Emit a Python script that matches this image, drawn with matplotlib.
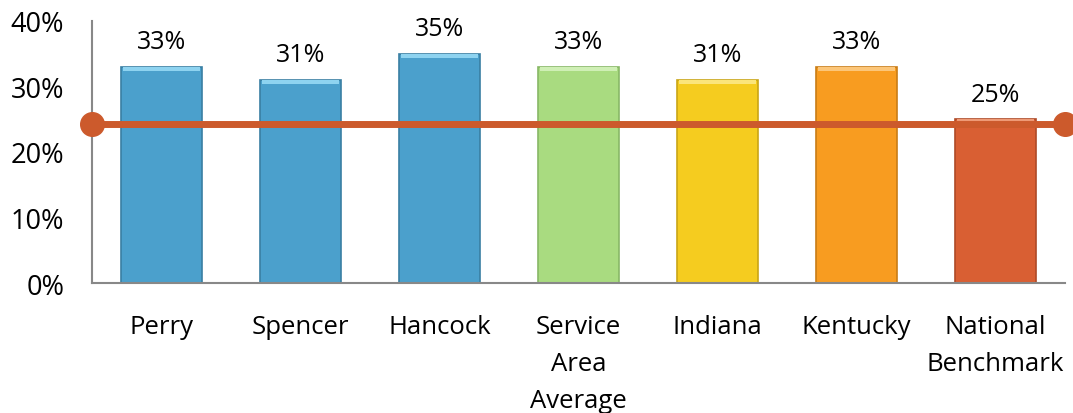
import numpy as np
import matplotlib
matplotlib.use("Agg")
import matplotlib.pyplot as plt

categories = ["Perry", "Spencer", "Hancock", "Service\nArea\nAverage",
              "Indiana", "Kentucky", "National\nBenchmark"]
values = [33, 31, 35, 33, 31, 33, 25]
benchmark = 24.2
colors = ["#4BA0CC", "#4BA0CC", "#4BA0CC", "#A9DB80",
          "#F5CC1F", "#F89C20", "#D95F33"]
edge_colors = ["#3A7FA3", "#3A7FA3", "#3A7FA3", "#88B866",
               "#C9A516", "#C97D16", "#AE4A27"]
highlights = ["#8ED3F0", "#8ED3F0", "#8ED3F0", "#CFEFB5",
              "#FBE57A", "#FCC679", "#EE9A76"]

plt.rcParams["font.family"] = ["Open Sans", "DejaVu Sans"]

fig = plt.figure(figsize=(10.73, 4.14), dpi=100)
ax = fig.add_axes([0.0857, 0.314, 0.9068, 0.633])

x = np.arange(len(categories))
w = 0.58
ax.bar(x, values, w, color=colors, edgecolor=edge_colors, linewidth=1.2, zorder=2)
# bevel highlight along the top of each bar
ax.bar(x, [0.6] * len(values), w * 0.96, bottom=np.array(values) - 0.6,
       color=highlights, linewidth=0, zorder=3)

for xi, v in zip(x, values):
    ax.annotate(f"{v}%", (xi, v), xytext=(0, 9), textcoords="offset points",
                ha="center", va="bottom", fontsize=18)

ax.plot([-0.5, len(categories) - 0.5], [benchmark, benchmark], color="#CC5A2C",
        linewidth=5, marker="o", markersize=17, clip_on=False, zorder=4)

ax.set_xlim(-0.5, len(categories) - 0.5)
ax.set_ylim(0, 40)
ax.set_yticks([0, 10, 20, 30, 40])
ax.set_yticklabels(["0%", "10%", "20%", "30%", "40%"])
ax.set_xticks(x)
ax.set_xticklabels(categories, linespacing=1.65)
ax.tick_params(axis="both", length=0, labelsize=18.5)
ax.tick_params(axis="y", pad=20, labelsize=19.5)
ax.tick_params(axis="x", pad=22)
for lbl in ax.get_xticklabels():
    lbl.set_verticalalignment("top")

for s in ["top", "right"]:
    ax.spines[s].set_visible(False)
for s in ["left", "bottom"]:
    ax.spines[s].set_color("#888888")
    ax.spines[s].set_linewidth(1.5)

fig.savefig("out.png", dpi=100)
